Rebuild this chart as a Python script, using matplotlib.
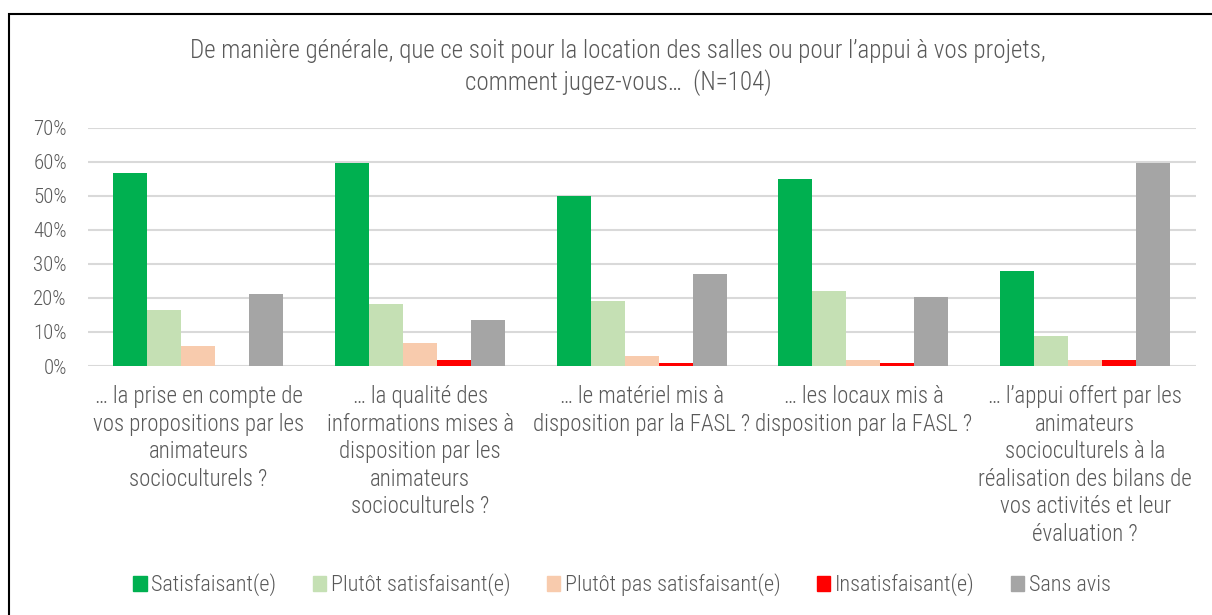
import matplotlib
matplotlib.use("Agg")
import matplotlib.pyplot as plt
from matplotlib.patches import Rectangle, Patch
from matplotlib.ticker import PercentFormatter
import numpy as np

plt.rcParams['font.family'] = ['Roboto Condensed', 'Liberation Sans', 'DejaVu Sans']
plt.rcParams['font.weight'] = 'light'

# categories (x axis)
categories = [
    "… la prise en compte de\nvos propositions par les\nanimateurs\nsocioculturels ?",
    "… la qualité des\ninformations mises à\ndisposition par les\nanimateurs\nsocioculturels ?",
    "… le matériel mis à\ndisposition par la FASL ?",
    "… les locaux mis à\ndisposition par la FASL ?",
    "… l’appui offert par les\nanimateurs\nsocioculturels à la\nréalisation des bilans de\nvos activités et leur\névaluation ?",
]

# series values in % (N=104)
satisfaisant = [56.7, 59.6, 50.0, 54.8, 27.9]
plutot_satisfaisant = [16.3, 18.3, 19.2, 22.1, 8.7]
plutot_pas = [5.8, 6.7, 2.9, 1.9, 1.9]
insatisfaisant = [0.0, 1.9, 1.0, 1.0, 1.9]
sans_avis = [21.2, 13.5, 26.9, 20.2, 59.6]

series_names = ["Satisfaisant(e)", "Plutôt satisfaisant(e)", "Plutôt pas satisfaisant(e)",
                "Insatisfaisant(e)", "Sans avis"]
series = [satisfaisant, plutot_satisfaisant, plutot_pas, insatisfaisant, sans_avis]
couleurs = ["#00B050", "#C5E0B4", "#F8CBAD", "#FF0000", "#A5A5A5"]

titre = ("De manière générale, que ce soit pour la location des salles ou pour l’appui à vos projets,\n"
         "comment jugez-vous…  (N=104)")

gris_texte = "#595959"
W, H = 1212, 615
fig = plt.figure(figsize=(W / 100, H / 100), dpi=100)

# cadre noir autour du graphique
fig.patches.append(Rectangle((9 / W, -0.05), 1.2, (H - 14) / H + 0.05,
                             transform=fig.transFigure, fill=False,
                             edgecolor="black", linewidth=1.5))

# zone de tracé
x0, x1 = 87.6, 1196
y0, y1 = 366, 127.5
ax = fig.add_axes([x0 / W, 1 - y0 / H, (x1 - x0) / W, (y0 - y1) / H])

x = np.arange(len(categories))
largeur = 0.1534
for i, (vals, nom, c) in enumerate(zip(series, series_names, couleurs)):
    ax.bar(x + (i - 2) * largeur, vals, largeur, color=c, label=nom, zorder=3)

ax.set_xlim(-0.5, len(categories) - 0.5)
ax.set_ylim(0, 70)
ax.set_yticks(np.arange(0, 71, 10))
ax.yaxis.set_major_formatter(PercentFormatter(decimals=0))
for t in ax.get_yticks():
    ax.axhline(t, color="#D9D9D9", linewidth=1.5, zorder=1)
for s in ax.spines.values():
    s.set_visible(False)
ax.tick_params(axis="y", length=0, pad=15, labelsize=15, labelcolor=gris_texte)
ax.set_xticks(x)
ax.set_xticklabels(categories, fontsize=16.5, color=gris_texte, linespacing=1.25)
ax.tick_params(axis="x", length=0, pad=14)

lignes = titre.split("\n")
fig.text(0.51, 1 - 51 / H, lignes[0], ha="center", va="center",
         fontsize=18, color=gris_texte)
fig.text(0.51, 1 - 83 / H, lignes[1], ha="center", va="center",
         fontsize=18, color=gris_texte)

poignees = [Patch(color=c) for c in couleurs]
fig.legend(poignees, series_names, loc="center", bbox_to_anchor=(622 / W, 1 - 585 / H),
           ncol=5, frameon=False, fontsize=16, labelcolor=gris_texte,
           handlelength=0.6, handleheight=0.6, handletextpad=0.2, columnspacing=1.65)

fig.savefig("out.png", dpi=100)
